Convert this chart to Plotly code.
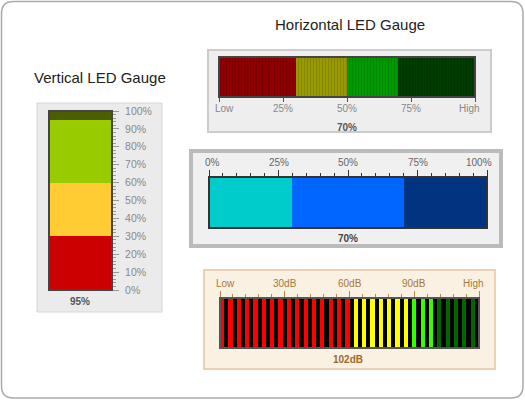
import plotly.graph_objects as go

W, H = 525, 400
FONT = "Liberation Sans"

# ---------------- data ----------------
# Vertical LED gauge
v_ranges = [0, 30, 60, 100]
v_colors = ["#CC0000", "#FFCC33", "#99CC00"]
v_unlit = ["#5A0000", "#6B5A1A", "#4C5E00"]
v_value = 95
v_tickvals = [0, 10, 20, 30, 40, 50, 60, 70, 80, 90, 100]
v_ticktext = ["0%", "10%", "20%", "30%", "40%", "50%", "60%", "70%", "80%", "90%", "100%"]

# Horizontal LED gauge (striped)
h1_ranges = [0, 30, 50, 100]
h1_colors = ["#8E0000", "#999900", "#009A00"]
h1_unlit = ["#3A0000", "#3A3A00", "#003C00"]
h1_value = 70
h1_tickvals = [0, 25, 50, 75, 100]
h1_ticktext = ["Low", "25%", "50%", "75%", "High"]

# Horizontal gauge (blue)
h2_ranges = [0, 30, 70, 100]
h2_colors = ["#00CCCC", "#0066FF", "#003380"]
h2_value = 70
h2_tickvals = [0, 25, 50, 75, 100]
h2_ticktext = ["0%", "25%", "50%", "75%", "100%"]

# dB LED gauge
h3_ranges = [0, 62, 90, 120]
h3_colors = ["#FF0000", "#FFFF00", "#33FF00"]
h3_unlit = ["#550000", "#555500", "#006600"]
h3_value = 102
h3_led_count = 31
h3_tickvals = [0, 30, 60, 90, 120]
h3_ticktext = ["Low", "30dB", "60dB", "90dB", "High"]


# ---------------- helpers ----------------
def px(x):
    return x / W


def py(y):
    return 1 - y / H


def segments(ranges, colors, unlit, value):
    out = []
    for i in range(len(colors)):
        lo, hi = ranges[i], ranges[i + 1]
        if value >= hi:
            out.append((lo, hi, colors[i]))
        elif value <= lo:
            out.append((lo, hi, unlit[i]))
        else:
            out.append((lo, value, colors[i]))
            out.append((value, hi, unlit[i]))
    return out


def rrect_path(x0, y0, x1, y1, r):
    pts = [
        ("M", [(x0 + r, y0)]),
        ("L", [(x1 - r, y0)]),
        ("Q", [(x1, y0), (x1, y0 + r)]),
        ("L", [(x1, y1 - r)]),
        ("Q", [(x1, y1), (x1 - r, y1)]),
        ("L", [(x0 + r, y1)]),
        ("Q", [(x0, y1), (x0, y1 - r)]),
        ("L", [(x0, y0 + r)]),
        ("Q", [(x0, y0), (x0 + r, y0)]),
    ]
    s = ""
    for cmd, ps in pts:
        s += cmd + " " + " ".join(f"{px(a):.5f},{py(b):.5f}" for a, b in ps) + " "
    return s + "Z"


fig = go.Figure()
shapes = []
annotations = []

# outer border
shapes.append(dict(type="path", xref="paper", yref="paper", path=rrect_path(1.5, 1.5, 523, 398, 12),
                   line=dict(color="#AAAAAA", width=1.5), fillcolor="white", layer="below"))


def panel(x0, y0, x1, y1, fill, line, lw):
    shapes.append(dict(type="rect", xref="paper", yref="paper", x0=px(x0), x1=px(x1), y0=py(y1), y1=py(y0),
                       fillcolor=fill, line=dict(color=line, width=lw), layer="below"))


panel(37, 103, 162, 312, "#EBEBEB", "#D6D6D6", 1)
panel(208, 50, 491, 132, "#EEEEEE", "#CCCCCC", 2)
panel(191, 151, 501, 246, "#F0F0F0", "#BBBBBB", 4)
panel(204, 270, 495, 369, "#FBF1E3", "#E8D2B0", 2)

# black background for LED gauge
shapes.append(dict(type="rect", xref="x4 domain", yref="y4 domain", x0=0, x1=1, y0=0, y1=1,
                   fillcolor="#000000", line=dict(width=0), layer="below"))

# ---------- vertical gauge ----------
for lo, hi, col in segments(v_ranges, v_colors, v_unlit, v_value):
    fig.add_trace(go.Bar(x=[0.5], y=[hi - lo], base=[lo], width=[1], marker=dict(color=col, line=dict(width=0)),
                         xaxis="x", yaxis="y", hoverinfo="skip", showlegend=False))

# ---------- top striped gauge ----------
for lo, hi, col in segments(h1_ranges, h1_colors, h1_unlit, h1_value):
    fig.add_trace(go.Bar(y=[0.5], x=[hi - lo], base=[lo], width=[1], orientation="h",
                         marker=dict(color=col, line=dict(width=0),
                                     pattern=dict(shape="|", size=3, solidity=0.35,
                                                  fgcolor="rgba(0,0,0,0.25)", bgcolor=col)),
                         xaxis="x2", yaxis="y2", hoverinfo="skip", showlegend=False))

# ---------- middle gauge ----------
for i in range(len(h2_colors)):
    lo, hi = h2_ranges[i], h2_ranges[i + 1]
    fig.add_trace(go.Bar(y=[0.5], x=[hi - lo], base=[lo], width=[1], orientation="h",
                         marker=dict(color=h2_colors[i], line=dict(width=0)),
                         xaxis="x3", yaxis="y3", hoverinfo="skip", showlegend=False))

# ---------- dB LED gauge ----------
step = (h3_ranges[-1] - h3_ranges[0]) / h3_led_count
led_x, led_c = [], []
for i in range(h3_led_count):
    start = h3_ranges[0] + i * step
    mid = start + step / 2
    end = start + step
    k = max(j for j in range(len(h3_colors)) if mid >= h3_ranges[j])
    lit = end <= h3_value
    led_x.append(start + step * 0.25)
    led_c.append(h3_colors[k] if lit else h3_unlit[k])
fig.add_trace(go.Bar(x=led_x, y=[1] * len(led_x), base=[0] * len(led_x), width=[step * 0.5] * len(led_x),
                     marker=dict(color=led_c, line=dict(width=0)),
                     xaxis="x4", yaxis="y4", hoverinfo="skip", showlegend=False))

# bar borders
for xr, yr, col in [("x", "y", "#444444"), ("x2", "y2", "#444444"), ("x3", "y3", "#333333"), ("x4", "y4", "#555555")]:
    shapes.append(dict(type="rect", xref=f"{xr} domain", yref=f"{yr} domain", x0=0, x1=1, y0=0, y1=1,
                       line=dict(color=col, width=2), fillcolor="rgba(0,0,0,0)", layer="above"))


def text(x, y, s, size, color, bold=False):
    annotations.append(dict(xref="paper", yref="paper", x=px(x), y=py(y), text=f"<b>{s}</b>" if bold else s,
                            showarrow=False, xanchor="center", yanchor="middle",
                            font=dict(family=FONT, size=size, color=color)))


def axis_labels(xref, yref, vals, texts, ydom, yshift, color):
    n = len(vals)
    for i, (v, t) in enumerate(zip(vals, texts)):
        anchor = "left" if i == 0 else ("right" if i == n - 1 else "center")
        xs = -4 if i == 0 else (5 if i == n - 1 else 0)
        annotations.append(dict(xref=xref, yref=f"{yref} domain", x=v, y=ydom, text=t, showarrow=False,
                                xanchor=anchor, yanchor="middle", xshift=xs, yshift=yshift,
                                borderpad=0, borderwidth=0,
                                font=dict(family=FONT, size=10, color=color)))


text(100, 77, "Vertical LED Gauge", 15, "#222222")
text(350, 24, "Horizontal LED Gauge", 15, "#222222")
text(80, 301, f"{v_value}%", 10, "#555555", True)
text(347, 127, f"{h1_value}%", 10, "#555555", True)
text(348, 238, f"{h2_value}%", 10, "#444444", True)
text(348, 359, f"{h3_value}dB", 10, "#9A6A2F", True)

axis_labels("x2", "y2", h1_tickvals, h1_ticktext, 0, -12, "#888888")
axis_labels("x3", "y3", h2_tickvals, h2_ticktext, 1, 15, "#666666")
axis_labels("x4", "y4", h3_tickvals, h3_ticktext, 1, 15, "#A8763A")

hidden = dict(visible=False, fixedrange=True, automargin=False)
brown = "#B88A50"

fig.update_layout(
    width=W, height=H, autosize=False,
    margin=dict(l=0, r=0, t=0, b=0, pad=0),
    paper_bgcolor="white", plot_bgcolor="rgba(0,0,0,0)",
    barmode="overlay", bargap=0,
    shapes=shapes, annotations=annotations,
    font=dict(family=FONT),
    xaxis=dict(domain=[px(49), px(112)], range=[0, 1], anchor="y", **hidden),
    yaxis=dict(domain=[py(290), py(111)], range=[0, 100], anchor="x", side="right", automargin=False,
               tickmode="array", tickvals=v_tickvals, ticktext=v_ticktext,
               ticks="outside", ticklen=6, tickcolor="#999999", tickwidth=1, ticklabelstandoff=4,
               minor=dict(tickmode="linear", tick0=0, dtick=2, ticks="outside", ticklen=3, tickcolor="#999999"),
               showgrid=False, zeroline=False, showline=False,
               tickfont=dict(family=FONT, size=10.5, color="#888888"), fixedrange=True),
    xaxis2=dict(domain=[px(219), px(475)], range=[0, 100], anchor="y2", side="bottom", automargin=False,
                tickmode="array", tickvals=h1_tickvals, showticklabels=False,
                ticks="outside", ticklen=4, tickcolor="#555555",
                showgrid=False, zeroline=False, showline=False, fixedrange=True),
    yaxis2=dict(domain=[py(97), py(57)], range=[0, 1], anchor="x2", **hidden),
    xaxis3=dict(domain=[px(209), px(487)], range=[0, 100], anchor="y3", side="top", automargin=False,
                tickmode="array", tickvals=h2_tickvals, showticklabels=False,
                ticks="outside", ticklen=6, tickcolor="#333333",
                minor=dict(tickmode="linear", tick0=0, dtick=5, ticks="outside", ticklen=3, tickcolor="#333333"),
                showgrid=False, zeroline=False, showline=False, fixedrange=True),
    yaxis3=dict(domain=[py(228), py(177)], range=[0, 1], anchor="x3", **hidden),
    xaxis4=dict(domain=[px(220), px(479)], range=[0, 120], anchor="y4", side="top", automargin=False,
                tickmode="array", tickvals=h3_tickvals, showticklabels=False,
                ticks="outside", ticklen=6, tickcolor=brown,
                minor=dict(tickmode="linear", tick0=0, dtick=6, ticks="outside", ticklen=3, tickcolor=brown),
                showgrid=False, zeroline=False, showline=True, linecolor=brown, linewidth=1, fixedrange=True),
    yaxis4=dict(domain=[py(348), py(298)], range=[0, 1], anchor="x4", **hidden),
)

fig.write_html("out.html", config={"displayModeBar": False},
               post_script="document.body.style.margin='0';document.body.style.padding='0';")
